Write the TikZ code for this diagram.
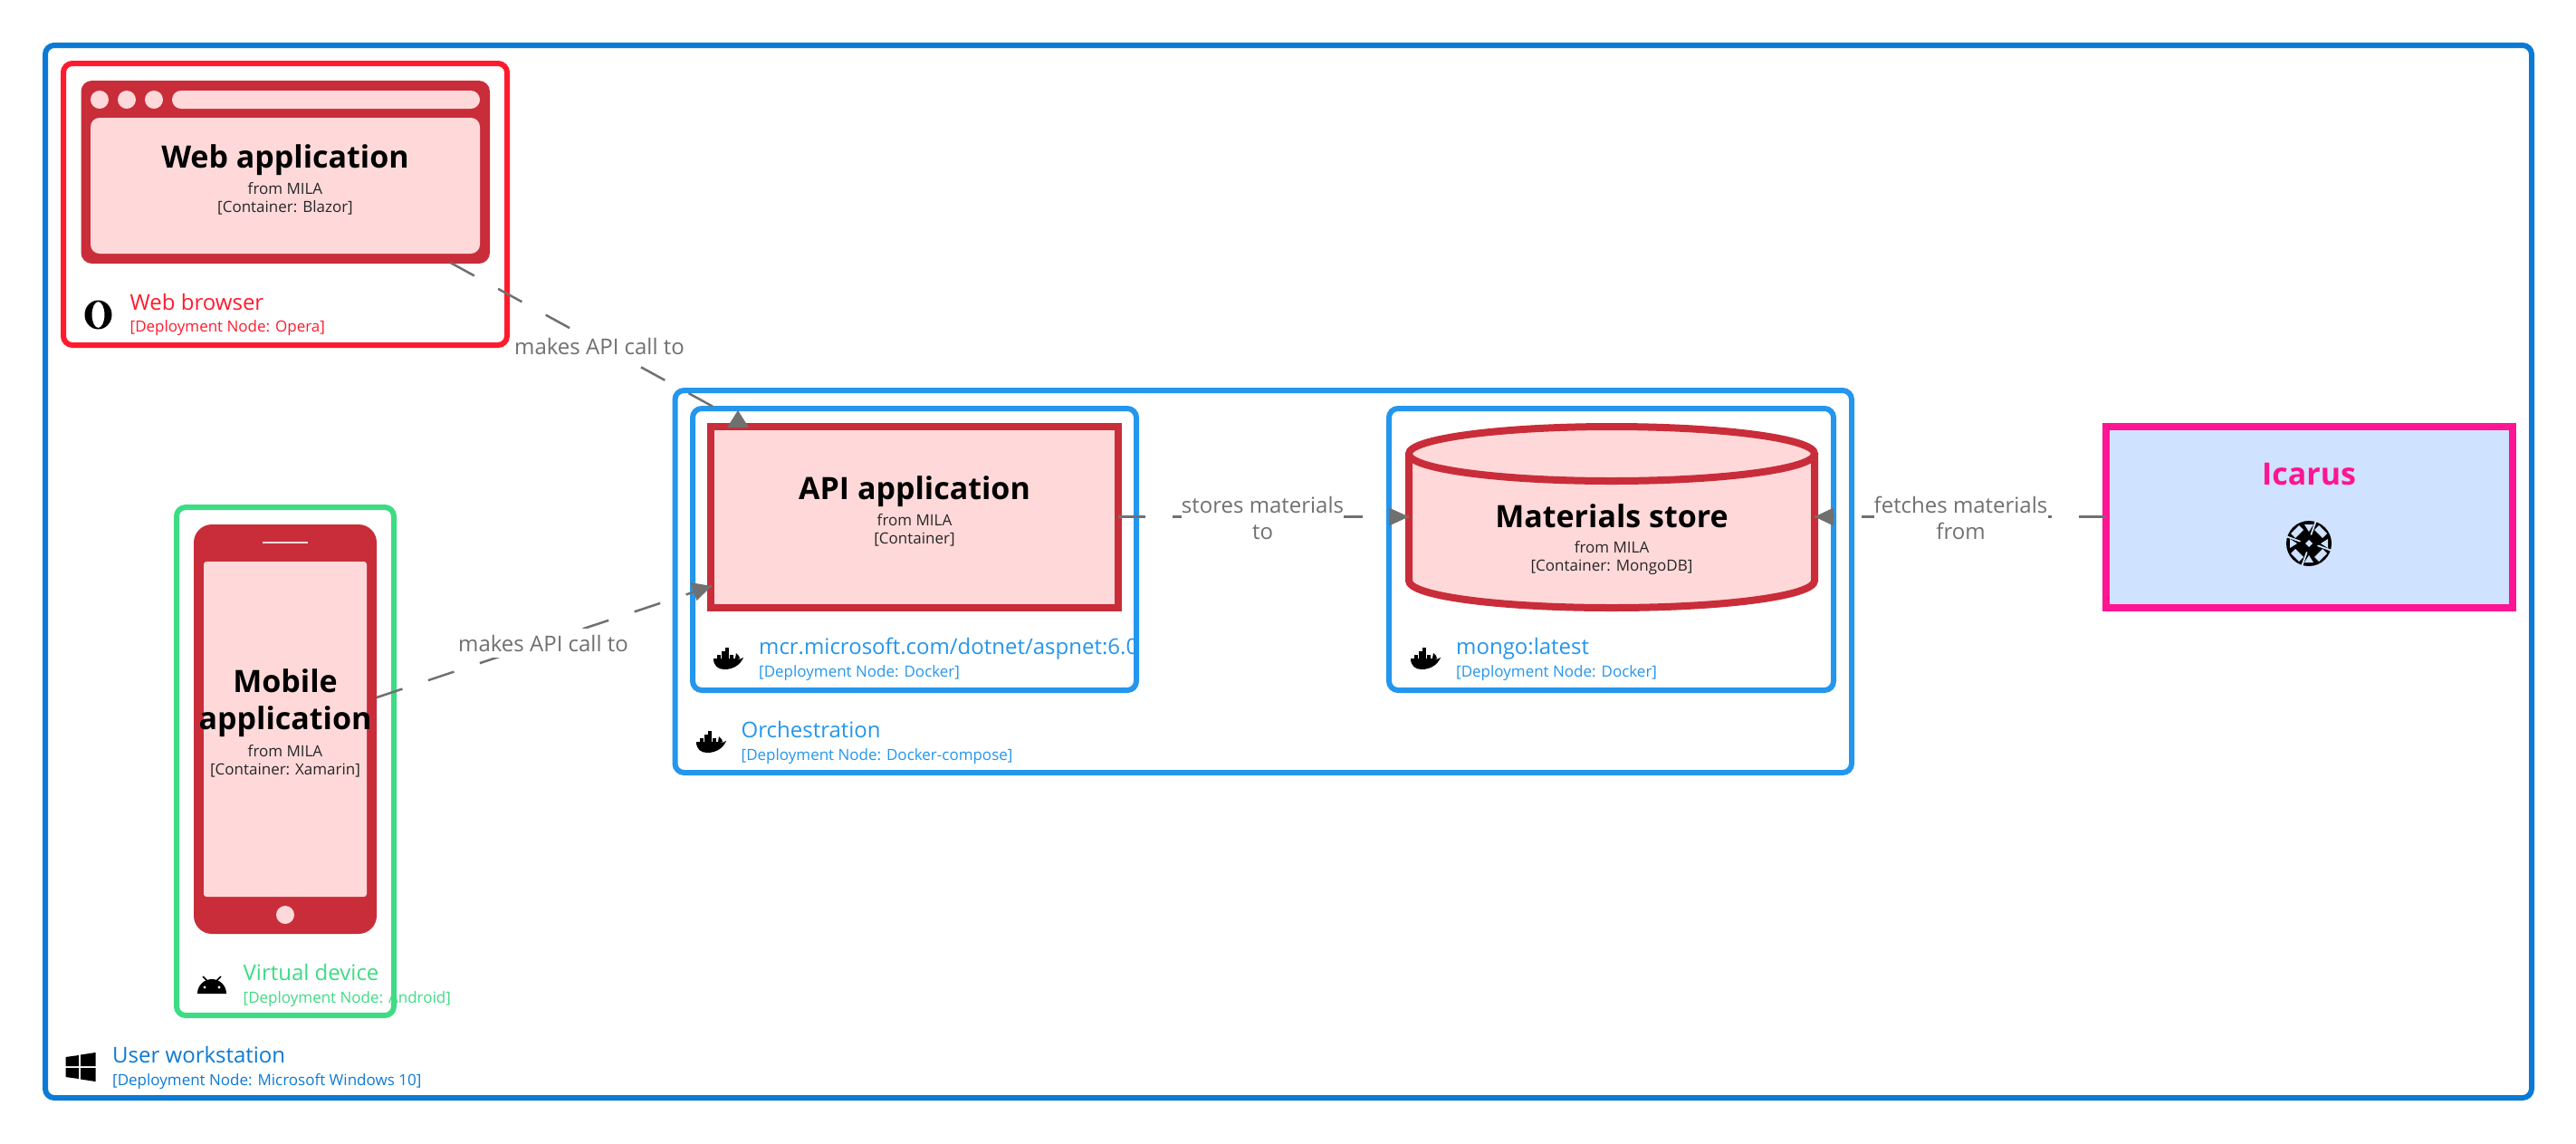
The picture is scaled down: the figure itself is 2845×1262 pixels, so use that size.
\documentclass[tikz,border=0pt]{standalone}
\usepackage{fontspec}
\setmainfont{Open Sans}
\definecolor{winblue}{HTML}{0B7AD6}
\definecolor{dockblue}{HTML}{2496ED}
\definecolor{operared}{HTML}{FF1B2D}
\definecolor{droidgreen}{HTML}{3DDC84}
\definecolor{appred}{HTML}{C92D39}
\definecolor{apppink}{HTML}{FFD9D9}
\definecolor{extpink}{HTML}{FF1493}
\definecolor{extblue}{HTML}{CFE2FF}
\definecolor{relgrey}{HTML}{707070}
\tikzset{
  nodebox/.style={draw=#1,line width=6,rounded corners=10,fill=white},
  nodename/.style={anchor=base west,inner sep=0,font=\fontsize{24}{24}\selectfont},
  nodetech/.style={anchor=base west,inner sep=0,font=\fontsize{17}{17}\selectfont},
  appname/.style={anchor=base,font=\fontsize{34}{34}\selectfont\bfseries,inner sep=0},
  appline/.style={anchor=base,font=\fontsize{17}{17}\selectfont,text=black!85,inner sep=0},
  rel/.style={draw=relgrey,line width=2.5,dash pattern=on 30 off 30},
  relhead/.style={fill=relgrey},
  rellabel/.style={fill=white,text=relgrey,inner sep=0,align=center,font=\fontsize{24}{29}\selectfont},
  dockericon/.pic={
    \fill[black] (-15,0) -- (10,0) .. controls (13,1) and (16,1) .. (18,-1) .. controls (15,6) and (8,12) .. (-3,12) .. controls (-10,12) and (-15,8) .. (-15,0) -- cycle;
    \fill[black] (9,0) -- (10,-6) -- (13,-3) -- (14,0) -- cycle;
    \foreach \i in {-11,-6.5,-2,2.5}{\fill[black] (\i,-4) rectangle ++(4,3.5);}
    \foreach \i in {-6.5,-2}{\fill[black] (\i,-8) rectangle ++(4,3.5);}
    \fill[black] (-2,-12) rectangle ++(4,3.5);
  },
  operaicon/.pic={
    \fill[black,even odd rule] (0,0) ellipse (15 and 16) (0,0) ellipse (7 and 14.5);
  },
  droidicon/.pic={
    \fill[black] (-16,10) arc (180:360:16 and 16) -- cycle;
    \draw[black,line width=1.5] (-5,-4) -- (-10,-9) (5,-4) -- (10,-9);
    \fill[white] (-8,3) circle (1.6) (8,3) circle (1.6);
  },
  winicon/.pic={
    \fill[black] (-16.5,-11) -- (-2,-13) -- (-2,-1) -- (-16.5,-1) -- cycle
      (0,-13.5) -- (16.5,-16) -- (16.5,-1) -- (0,-1) -- cycle
      (-16.5,1) -- (-2,1) -- (-2,13) -- (-16.5,11) -- cycle
      (0,1) -- (16.5,1) -- (16.5,16) -- (0,13.5) -- cycle;
  },
  icarusicon/.pic={
    \fill[black] (0,0) circle (25);
    \foreach \a in {0,90,180,270}{
      \fill[extblue,rotate=\a] (-5,-21) -- (5,-21) -- (0,-13) -- cycle;
      \fill[extblue,rotate=\a] (6,-15) -- (11,-20) -- (20,-11) -- (15,-6) -- cycle;
      \fill[extblue,rotate=\a] (7,-25.5) -- (9,-25.5) -- (3,-9) -- (1.5,-10) -- cycle;
    }
    \fill[extblue] (0,-4) -- (4,0) -- (0,4) -- (-4,0) -- cycle;
  }
}
\begin{document}
\begin{tikzpicture}[x=1pt,y=-1pt]
\useasboundingbox (0,0) rectangle (2845,1262);
\fill[white] (0,0) rectangle (2845,1262);
% deployment nodes
\draw[nodebox=winblue] (50,50) rectangle (2796,1212);
\draw[nodebox=operared] (70,70) rectangle (560,381);
\draw[nodebox=droidgreen] (195,560) rectangle (435,1121);
\draw[nodebox=dockblue] (745.5,431) rectangle (2045,853);
\draw[nodebox=dockblue] (765,451) rectangle (1255,762);
\draw[nodebox=dockblue] (1534,451) rectangle (2025,762);
% web application
\fill[appred,rounded corners=12] (89.5,89) rectangle (541,291);
\fill[apppink,rounded corners=10] (100,130) rectangle (530,280);
\foreach \i in {110,140,170}{\fill[apppink] (\i,110) circle (10);}
\fill[apppink,rounded corners=10] (190,100) rectangle (530,120);
\node[appname] (webapp) at (315,185.5) {Web application};
\node[appline] (webapp from) at (315,214) {from MILA};
\node[appline] (webapp tech) at (315,234) {[Container: Blazor]};
% mobile application
\fill[appred,rounded corners=20] (214,579) rectangle (416,1031);
\fill[apppink,rounded corners=3] (225,620) rectangle (405,990);
\fill[apppink] (290,598) rectangle (340,600);
\fill[apppink] (315,1010) circle (10);
\node[appname] (mobile) at (315,764) {Mobile};
\node[appname] (mobile two) at (315,805) {application};
\node[appline] (mobile from) at (315,835) {from MILA};
\node[appline] (mobile tech) at (315,855) {[Container: Xamarin]};
% api application
\draw[draw=appred,fill=apppink,line width=8] (785,471) rectangle (1235,671);
\node[appname] (api) at (1010,551.5) {API application};
\node[appline] (api from) at (1010,580) {from MILA};
\node[appline] (api tech) at (1010,600) {[Container]};
% materials store
\draw[draw=appred,fill=apppink,line width=8] (1556,501) -- (1556,641) .. controls (1556,658) and (1656,671) .. (1780,671) .. controls (1904,671) and (2004,658) .. (2004,641) -- (2004,501);
\draw[draw=appred,fill=apppink,line width=8] (1780,501) ellipse (224 and 30);
\node[appname] (store) at (1780,582) {Materials store};
\node[appline] (store from) at (1780,610) {from MILA};
\node[appline] (store tech) at (1780,630) {[Container: MongoDB]};
% icarus
\draw[draw=extpink,fill=extblue,line width=8] (2325.5,471) rectangle (2775,671);
\node[anchor=base,text=extpink,inner sep=0,font=\fontsize{34}{34}\selectfont\bfseries] (icarus) at (2550,535.5) {Icarus};
\pic at (2550,600) {icarusicon};
% deployment labels
\pic at (108.5,347.5) {operaicon};
\node[nodename,text=operared] (browser) at (143.5,342) {Web browser};
\node[nodetech,text=operared] (browser tech) at (143.5,366) {[Deployment Node: Opera]};
\pic at (234,1087) {droidicon};
\node[nodename,text=droidgreen] (device) at (268.5,1082) {Virtual device};
\node[nodetech,text=droidgreen] (device tech) at (268.5,1107) {[Deployment Node: Android]};
\pic at (89,1178) {winicon};
\node[nodename,text=winblue] (workstation) at (124,1173.5) {User workstation};
\node[nodetech,text=winblue] (workstation tech) at (124,1198) {[Deployment Node: Microsoft Windows 10]};
\pic at (784,819) {dockericon};
\node[nodename,text=dockblue] (orchestration) at (818.5,814.5) {Orchestration};
\node[nodetech,text=dockblue] (orchestration tech) at (818.5,839) {[Deployment Node: Docker-compose]};
\pic at (803,727) {dockericon};
\begin{scope}
\clip (765,695) rectangle (1253,735);
\node[nodename,text=dockblue] (aspnet) at (838,722.5) {mcr.microsoft.com/dotnet/aspnet:6.0};
\end{scope}
\node[nodetech,text=dockblue] (aspnet tech) at (838,747) {[Deployment Node: Docker]};
\pic at (1573,727) {dockericon};
\node[nodename,text=dockblue] (mongo) at (1608,722.5) {mongo:latest};
\node[nodetech,text=dockblue] (mongo tech) at (1608,747) {[Deployment Node: Docker]};
% relationships
\coordinate (webapp out) at (497.5,290);
\coordinate (api top) at (815,464);
\coordinate (mobile out) at (416,770);
\coordinate (api left) at (786,647);
\coordinate (api right) at (1235,570.5);
\coordinate (store left) at (1556,570.5);
\coordinate (icarus left) at (2325.5,570.5);
\coordinate (store right) at (2004,570.5);
\draw[rel] (webapp out) -- (api top);
\draw[rel] (mobile out) -- (api left);
\draw[rel] (api right) -- (store left);
\draw[rel] (icarus left) -- (store right);
\fill[relhead] (815,453) -- (827,472) -- (803,472) -- cycle;
\fill[relhead] (786,647) -- (762,643) -- (769.5,663) -- cycle;
\fill[relhead] (1556,570.5) -- (1534,560.5) -- (1534,580.5) -- cycle;
\fill[relhead] (2004,570.5) -- (2025,560.5) -- (2025,580.5) -- cycle;
\node[rellabel,minimum width=187,minimum height=32] (web label) at (662,382) {makes API call to};
\node[rellabel,minimum width=187,minimum height=32] (mobile label) at (600,710) {makes API call to};
\node[rellabel,minimum width=179] (store label) at (1394.5,572) {stores materials\\to};
\node[rellabel,minimum width=192] (fetch label) at (2165.5,572) {fetches materials\\from};
\end{tikzpicture}
\end{document}
